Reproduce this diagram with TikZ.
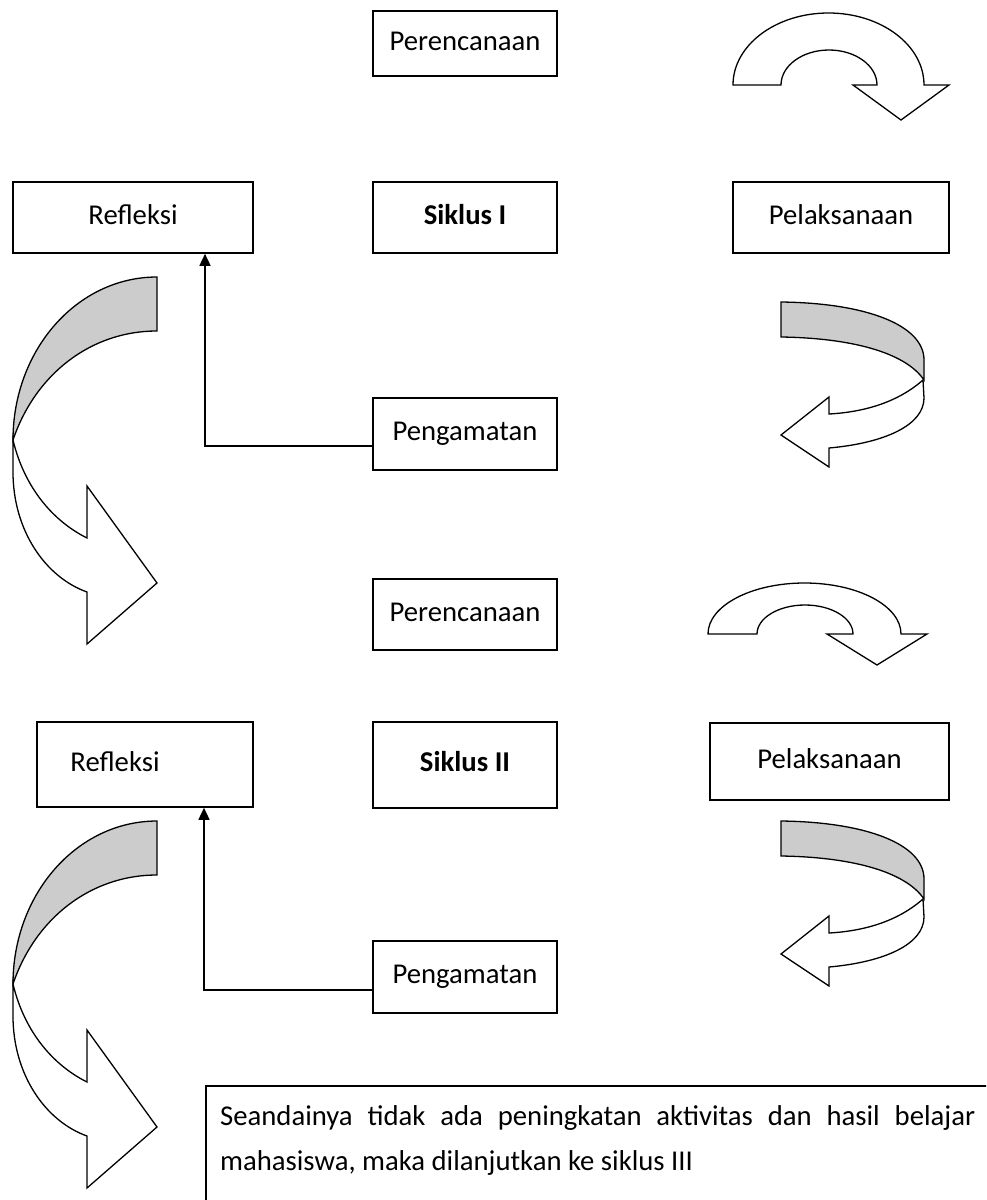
\documentclass[tikz,border=0pt]{standalone}
\usepackage{fontspec}
\setmainfont{Carlito}
\usetikzlibrary{arrows.meta}
\begin{document}
\begin{tikzpicture}[x=1pt,y=-1pt,
  txt/.style={font=\fontsize{28.7}{40}\selectfont},
  box/.style={draw, line width=1.6pt, inner sep=0pt, text height=22pt, text depth=9pt, txt},
  band/.style={draw, line width=1.3pt, fill=white, line join=miter},
  shade/.style={draw, line width=1.3pt, fill=black!20, line join=miter},
  conn/.style={line width=1.5pt, -{Triangle[width=11pt,length=12pt]}},
  leftarr/.pic={
    \draw[band] (13,440) .. controls (25,490) and (55,522) .. (87,538) -- (87,486) -- (157,583) -- (87,644) -- (87,592) .. controls (45,577) and (13,530) .. (13,472) -- cycle;
    \draw[shade] (157,277) -- (157,331) .. controls (90,331) and (35,375) .. (13,440) .. controls (13,350) and (77,277) .. (157,277) -- cycle;
  },
  rightarr/.pic={
    \draw[band] (923,380) .. controls (898,402) and (865,412) .. (829,414) -- (829,397) -- (781,435) -- (829,467) -- (829,448) .. controls (885,443) and (924,425) .. (924,398) -- cycle;
    \draw[shade] (781,302) .. controls (866,303) and (924,325) .. (924,360) -- (924,380) .. controls (905,352) and (850,338) .. (781,337) -- cycle;
  }
]
\clip (0,0) rectangle (986,1200);
\fill[white] (0,0) rectangle (986,1200);

% ---- Siklus I ----
\node[box, minimum width=184pt, minimum height=65pt] (per1) at (465,43.5) {Perencanaan};
\node[box, minimum width=240pt, minimum height=71pt] (ref1) at (133,217.5) {Refleksi};
\node[box, minimum width=184pt, minimum height=71pt] (sik1) at (465,217.5) {\textbf{Siklus I}};
\node[box, minimum width=216pt, minimum height=71pt] (pel1) at (841,217.5) {Pelaksanaan};
\node[box, minimum width=184pt, minimum height=72pt] (pen1) at (465,434) {Pengamatan};

\draw[band] (733,85) .. controls (733,45.2) and (775.8,13) .. (828.5,13) .. controls (881.2,13) and (924,45.2) .. (924,85) -- (949,85) -- (901,120) -- (853,85) -- (877,85) .. controls (877,65.7) and (855.5,50) .. (829,50) .. controls (802.5,50) and (781,65.7) .. (781,85) -- cycle;
\pic at (0,0) {rightarr};
\pic at (0,0) {leftarr};

\coordinate (k1) at (205,446);
\draw[conn] (k1 -| pen1.west) -- (k1) -- (k1 |- ref1.south);

% ---- Siklus II ----
\node[box, minimum width=184pt, minimum height=71pt] (per2) at (465,614.5) {Perencanaan};
\node[box, minimum width=216pt, minimum height=85pt] (ref2) at (145,764.5) {\makebox[0pt]{\hspace*{-60pt}Refleksi}};
\node[box, minimum width=184pt, minimum height=86pt] (sik2) at (465,765) {\textbf{Siklus II}};
\node[box, minimum width=239pt, minimum height=77pt] (pel2) at (829.5,761.5) {Pelaksanaan};
\node[box, minimum width=184pt, minimum height=72pt] (pen2) at (465,977) {Pengamatan};

\draw[band] (708,634) .. controls (708,605.8) and (751.2,583) .. (804.5,583) .. controls (857.8,583) and (901,605.8) .. (901,634) -- (927,634) -- (877,665) -- (827,634) -- (853,634) .. controls (853,618) and (831.5,605) .. (805,605) .. controls (778.5,605) and (757,618) .. (757,634) -- cycle;
\pic at (0,519) {rightarr};
\pic at (0,544) {leftarr};

\coordinate (k2) at (204,990);
\draw[conn] (k2 -| pen2.west) -- (k2) -- (k2 |- ref2.south);

% ---- note ----
\node[draw, line width=1.6pt, minimum width=820pt, minimum height=140pt, anchor=north west] (note) at (205,1085) {};
\node[txt, anchor=base west, inner sep=0pt] (note1) at (220,1125) {\makebox[755pt][s]{Seandainya tidak ada peningkatan aktivitas dan hasil belajar}};
\node[txt, anchor=base west, inner sep=0pt] (note2) at (220,1170) {mahasiswa, maka dilanjutkan ke siklus III};
\end{tikzpicture}
\end{document}
